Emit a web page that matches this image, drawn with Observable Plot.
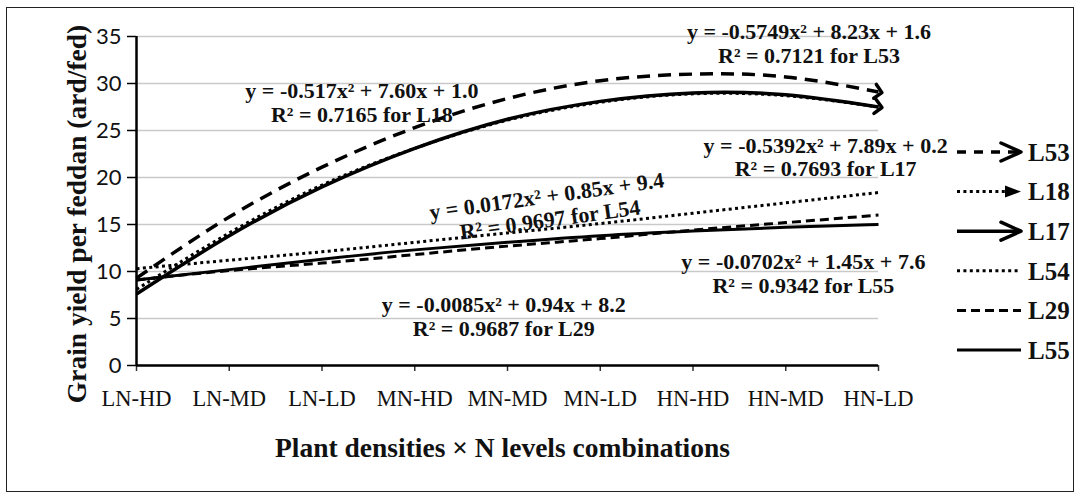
<!DOCTYPE html>
<html><head><meta charset="utf-8">
<script src="https://cdn.jsdelivr.net/npm/d3@7"></script>
<script src="https://cdn.jsdelivr.net/npm/@observablehq/plot@0.6"></script>
<style>
body{margin:0;background:#fff;}
#wrap{position:relative;width:1081px;height:494px;overflow:hidden;background:#fff;}
#frame{position:absolute;left:6px;top:7px;width:1068px;height:485px;border:1.5px solid #222;box-sizing:border-box;}
#chart{position:absolute;left:0;top:0;}
#legend{position:absolute;left:0;top:0;}
</style></head><body>
<div id="wrap"><div id="frame"></div><div id="chart"></div><div id="legend"></div></div>
<script>
// ---- data ----
const categories = ["LN-HD","LN-MD","LN-LD","MN-HD","MN-MD","MN-LD","HN-HD","HN-MD","HN-LD"];
const yTicks = [0, 5, 10, 15, 20, 25, 30, 35];
const seriesNames = ["L53","L18","L17","L54","L29","L55"];
const L53 = [9.3, 15.8, 21.1, 25.3, 28.4, 30.3, 31.0, 30.7, 29.1];
const L18 = [8.1, 14.1, 19.2, 23.1, 26.1, 28.0, 28.9, 28.7, 27.5];
const L17 = [7.6, 13.8, 19.0, 23.1, 26.2, 28.1, 29.0, 28.8, 27.5];
const L54 = [10.3, 11.2, 12.1, 13.1, 14.1, 15.1, 16.2, 17.3, 18.4];
const L29 = [9.1, 10.1, 10.9, 11.8, 12.7, 13.5, 14.4, 15.2, 16.0];
const L55 = [9.1, 10.2, 11.3, 12.3, 13.1, 13.8, 14.3, 14.7, 15.0];
const equations = [
  "y = -0.5749x² + 8.23x + 1.6\nR² = 0.7121 for L53",
  "y = -0.517x² + 7.60x + 1.0\nR² = 0.7165 for L18",
  "y = -0.5392x² + 7.89x + 0.2\nR² = 0.7693 for L17",
  "y = 0.0172x² + 0.85x + 9.4\nR² = 0.9697 for L54",
  "y = -0.0085x² + 0.94x + 8.2\nR² = 0.9687 for L29",
  "y = -0.0702x² + 1.45x + 7.6\nR² = 0.9342 for L55"
];
const xTitle = "Plant densities × N levels combinations";
const yTitle = "Grain yield per feddan (ard/fed)";

// ---- styles / layout (not data) ----
const seriesValues = [L53, L18, L17, L54, L29, L55];
const lineStyle = {
  L53: {width: 3.5, dash: "13,8", arrow: "open"},
  L18: {width: 3, dash: "3,3.4", arrow: "filled"},
  L17: {width: 3.5, dash: null, arrow: "open"},
  L54: {width: 3, dash: "3,3.4", arrow: null},
  L29: {width: 3, dash: "9,5", arrow: null},
  L55: {width: 3, dash: null, arrow: null}
};
// annotation anchor positions (in axis units) & rotation
const labelPos = {
  L53: {x: 8.25, y: 34.3, r: 0},
  L18: {x: 3.43, y: 28.0, r: 0},
  L17: {x: 8.43, y: 22.2, r: 0},
  L54: {x: 5.44, y: 16.8, r: -8},
  L29: {x: 4.96, y: 5.25, r: 0},
  L55: {x: 8.19, y: 9.8, r: 0}
};

const serif = "'Liberation Serif', 'Times New Roman', serif";
const rows = seriesNames.flatMap((name, s) =>
  seriesValues[s].map((v, i) => ({series: name, x: i + 1, y: v})));
const annotations = seriesNames.map((name, s) => ({
  text: equations[s], x: labelPos[name].x, y: labelPos[name].y, r: labelPos[name].r
}));

const lineMarks = seriesNames.map(name => {
  const st = lineStyle[name];
  return Plot.line(rows.filter(d => d.series === name), {
    x: "x", y: "y", curve: "natural",
    stroke: "#000", strokeWidth: st.width,
    strokeDasharray: st.dash || undefined,
    strokeLinecap: "butt",
    markerEnd: st.arrow === "open" ? "arrow" : undefined
  });
});

const chart = Plot.plot({
  width: 1081, height: 494,
  marginLeft: 136, marginRight: 203, marginTop: 36, marginBottom: 129,
  style: {background: "transparent", overflow: "visible"},
  x: {type: "linear", domain: [1, 9]},
  y: {domain: [0, 35]},
  marks: [
    Plot.gridY(yTicks, {stroke: "#c9c9c9", strokeOpacity: 1, strokeWidth: 1.5}),
    Plot.axisY(yTicks, {tickSize: 9, tickPadding: 6, label: null, stroke: "#000", strokeWidth: 1.5,
      fontSize: 22, fontFamily: "Lato, 'Open Sans', sans-serif", fill: "#111"}),
    Plot.axisX(d3.range(1, 10), {tickSize: 6, tickPadding: 19, label: null, stroke: "#333", strokeWidth: 1.5,
      tickFormat: i => categories[i - 1], fontSize: 22.5, fontFamily: serif, fill: "#111"}),
    Plot.ruleY([0], {x1: 1, x2: 9, stroke: "#000", strokeWidth: 2.5}),
    Plot.ruleX([1], {y1: 0, y2: 35, stroke: "#000", strokeWidth: 2.5}),
    ...lineMarks,
    Plot.text(annotations, {x: "x", y: "y", text: "text", rotate: "r", lineHeight: 1.08,
      fontSize: 22, fontWeight: "bold", fontFamily: serif, fill: "#111"}),
    Plot.text([xTitle], {frameAnchor: "bottom", dy: 91, dx: -5, fontSize: 27.5, fontWeight: "bold", fontFamily: serif, fill: "#111"}),
    Plot.text([yTitle], {frameAnchor: "left", textAnchor: "middle", dx: -59, dy: 13, rotate: -90, fontSize: 27.5, fontWeight: "bold", fontFamily: serif, fill: "#111"})
  ]
});
document.getElementById("chart").append(chart);

// ---- legend ----
const lg = d3.create("svg").attr("width", 1081).attr("height", 494);
const legY0 = 152, legStep = 39.6, lx0 = 957, lx1 = 1021;
seriesNames.forEach((name, i) => {
  const st = lineStyle[name];
  const y = legY0 + i * legStep;
  const g = lg.append("g");
  const endX = st.arrow === "open" ? lx1 - 3 : st.arrow === "filled" ? lx1 - 15 : lx1;
  g.append("line").attr("x1", lx0).attr("x2", endX).attr("y1", y).attr("y2", y)
    .attr("stroke", "#000").attr("stroke-width", st.width)
    .attr("stroke-dasharray", st.dash === "13,8" ? "9,8" : st.dash);
  if (st.arrow === "open") {
    g.append("path").attr("d", `M${lx1 - 20},${y - 9}L${lx1},${y}L${lx1 - 20},${y + 9}`)
      .attr("fill", "none").attr("stroke", "#000").attr("stroke-width", 3.5)
      .attr("stroke-linejoin", "round").attr("stroke-linecap", "round");
  } else if (st.arrow === "filled") {
    g.append("path").attr("d", `M${lx1 - 16},${y - 6}L${lx1},${y}L${lx1 - 16},${y + 6}Z`).attr("fill", "#000");
  }
  g.append("text").attr("x", lx1 + 7).attr("y", y).attr("dy", "0.35em")
    .attr("font-family", serif).attr("font-weight", "bold").attr("font-size", 25).attr("fill", "#111")
    .text(name);
});
document.getElementById("legend").append(lg.node());
</script>
</body></html>
